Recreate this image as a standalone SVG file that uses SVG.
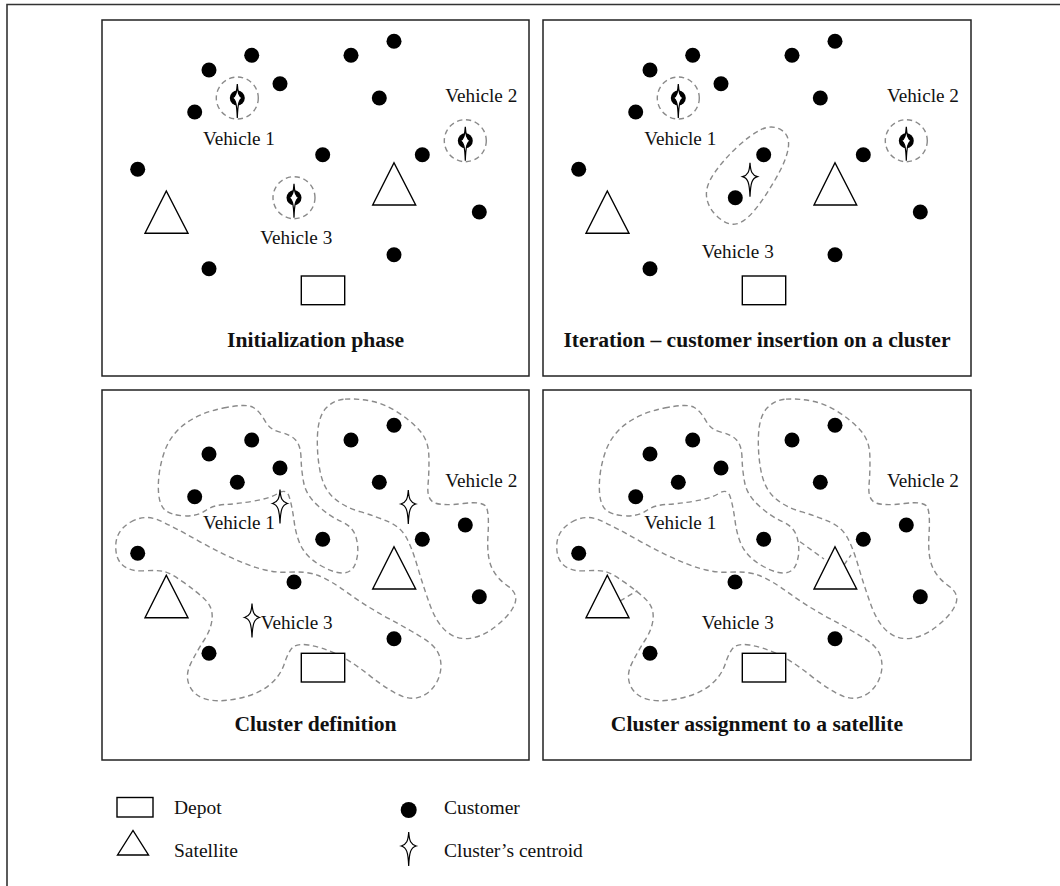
<svg xmlns="http://www.w3.org/2000/svg" width="1060" height="886" viewBox="0 0 1060 886">
<style>
.frame{fill:none;stroke:#333;stroke-width:1.6}
.panel{fill:#fff;stroke:#222;stroke-width:1.5}
.cust{fill:#000}
.sat{fill:#fff;stroke:#000;stroke-width:1.4}
.depot{fill:#fff;stroke:#000;stroke-width:1.4}
.ring{fill:none;stroke:#8a8a8a;stroke-width:1.4;stroke-dasharray:5.3 3.7}
.clus{fill:none;stroke:#8a8a8a;stroke-width:4.2;stroke-dasharray:16 11}
.link{fill:none;stroke:#8a8a8a;stroke-width:1.4;stroke-dasharray:5.3 3.7}
.star{fill:#fff;stroke:#000;stroke-width:1.2}
.lbl{font-family:"Liberation Serif","Times New Roman",serif;font-size:19.2px;fill:#111;text-anchor:middle}
.ttl{font-family:"Liberation Serif","Times New Roman",serif;font-size:21.6px;font-weight:bold;fill:#111;text-anchor:middle}
.leg{font-family:"Liberation Serif","Times New Roman",serif;font-size:19.5px;fill:#111}
</style>
<defs>
<path id="star" class="star" d="M0,-14 C0.6,-5 2,-1.6 7.5,0 C2,1.6 0.6,6 0,20 C-0.6,6 -2,1.6 -7.5,0 C-2,-1.6 -0.6,-5 0,-14 Z"/>
<path id="mstar" class="star" d="M0,-14 C0.5,-5 1.6,-1.4 5,0 C1.6,1.4 0.5,6 0,20 C-0.5,6 -1.6,1.4 -5,0 C-1.6,-1.4 -0.5,-5 0,-14 Z"/>
<g id="marker"><circle r="7.5" fill="#000"/><use href="#mstar"/></g>
<path id="c1" d="M400,114 Q470,100 490,112.5 Q510,125 525,152.5 Q540,180 570,186.5 Q600,193 616,209 Q632,225 633,262.5 Q634,300 641,337.5 Q648,375 684,407.5 Q720,440 755,455 Q790,470 799,505 Q808,540 799,572.5 Q790,605 765,608.5 Q740,612 700,591 Q660,570 640,540 Q620,510 612.5,455 Q605,400 596.5,377.5 Q588,355 564,370 Q540,385 490,393.5 Q440,402 405,403.5 Q370,405 345,422.5 Q320,440 280,437.5 Q240,435 222.5,417.5 Q205,400 205,350 Q205,300 222.5,247.5 Q240,195 285,161.5 Q330,128 400,114 Z"/>
<path id="c2" d="M765,87.5 Q800,85 840,92.5 Q880,100 920,125 Q960,150 987.5,180 Q1015,210 1016.5,255 Q1018,300 1014,345 Q1010,390 1035,399 Q1060,408 1120,400.5 Q1180,393 1189,411.5 Q1198,430 1194,495 Q1190,560 1205,592.5 Q1220,625 1252.5,647.5 Q1285,670 1275,700 Q1265,730 1222.5,765 Q1180,800 1140,805 Q1100,810 1070,785 Q1040,760 1020,705 Q1000,650 982.5,590 Q965,530 947.5,500 Q930,470 895,455 Q860,440 810,425 Q760,410 730,382.5 Q700,355 690,302.5 Q680,250 682.5,195 Q685,140 707.5,115 Q730,90 765,87.5 Z"/>
<path id="c3" d="M122.5,456 Q165,432 207.5,451 Q250,470 325,512.5 Q400,555 470,582.5 Q540,610 595,606.5 Q650,603 685,616.5 Q720,630 775,670 Q830,710 895,745 Q960,780 1000,805 Q1040,830 1049,860 Q1058,890 1046.5,922.5 Q1035,955 1005,974 Q975,993 937.5,979 Q900,965 840,917.5 Q780,870 735,850 Q690,830 655,825 Q620,820 607.5,832.5 Q595,845 582.5,882.5 Q570,920 535,947.5 Q500,975 440,986.5 Q380,998 345,986.5 Q310,975 297.5,945 Q285,915 302.5,880 Q320,845 342.5,810 Q365,775 366.5,742.5 Q368,710 344,687.5 Q320,665 280,636.5 Q240,608 220,604 Q200,600 160,602.5 Q120,605 97.5,585 Q75,565 77.5,522.5 Q80,480 122.5,456 Z"/>
</defs>

<rect width="1060" height="886" fill="#fff"/>
<path id="frame" class="frame" d="M7,886 V4.5 H1060"/>

<!-- Panel 1: Initialization phase -->
<g id="panel-init">
<rect class="panel" x="102" y="20" width="427" height="356"/>
<g id="init-customers" class="cust">
<circle cx="209" cy="70" r="7.5"/><circle cx="251.7" cy="55.3" r="7.5"/><circle cx="351" cy="55.3" r="7.5"/><circle cx="394" cy="41.3" r="7.5"/>
<circle cx="280" cy="83.7" r="7.5"/><circle cx="379.3" cy="98" r="7.5"/><circle cx="194.7" cy="112" r="7.5"/><circle cx="322.7" cy="154.7" r="7.5"/>
<circle cx="422.3" cy="154.7" r="7.5"/><circle cx="137.7" cy="169.3" r="7.5"/><circle cx="479.3" cy="212" r="7.5"/><circle cx="209" cy="268.7" r="7.5"/>
<circle cx="394" cy="254.7" r="7.5"/>
</g>
<g id="init-satellites">
<polygon class="sat" points="145,233.3 166.3,191 188,233.3"/>
<polygon class="sat" points="372.7,205 394,162.7 415.7,205"/>
</g>
<rect id="init-depot" class="depot" x="301.3" y="276" width="43.4" height="28.7"/>
<g id="init-v1"><circle class="ring" cx="237.3" cy="98" r="21"/><use href="#marker" x="237.3" y="98"/><text class="lbl" x="239" y="145">Vehicle 1</text></g>
<g id="init-v2"><circle class="ring" cx="465.3" cy="140.7" r="21"/><use href="#marker" x="465.3" y="140.7"/><text class="lbl" x="481.3" y="102">Vehicle 2</text></g>
<g id="init-v3"><circle class="ring" cx="294" cy="197.7" r="21"/><use href="#marker" x="294" y="197.7"/><text class="lbl" x="296.3" y="244.3">Vehicle 3</text></g>
<text class="ttl" x="315.5" y="347.3">Initialization phase</text>
</g>

<!-- Panel 2: Iteration -->
<g id="panel-iter">
<rect class="panel" x="543" y="20" width="428" height="356"/>
<g id="iter-customers" class="cust">
<circle cx="650" cy="70" r="7.5"/><circle cx="692.7" cy="55.3" r="7.5"/><circle cx="792" cy="55.3" r="7.5"/><circle cx="835" cy="41.3" r="7.5"/>
<circle cx="721" cy="83.7" r="7.5"/><circle cx="820.3" cy="98" r="7.5"/><circle cx="635.7" cy="112" r="7.5"/><circle cx="763.7" cy="154.7" r="7.5"/>
<circle cx="863.3" cy="154.7" r="7.5"/><circle cx="578.7" cy="169.3" r="7.5"/><circle cx="920.3" cy="212" r="7.5"/><circle cx="650" cy="268.7" r="7.5"/>
<circle cx="835" cy="254.7" r="7.5"/><circle cx="735.3" cy="197.7" r="7.5"/>
</g>
<g id="iter-satellites">
<polygon class="sat" points="586,233.3 607.3,191 629,233.3"/>
<polygon class="sat" points="814,205 835,162.7 856.7,205"/>
</g>
<rect id="iter-depot" class="depot" x="742.3" y="276" width="43.4" height="28.7"/>
<g id="iter-v1"><circle class="ring" cx="678.3" cy="98" r="21"/><use href="#marker" x="678.3" y="98"/><text class="lbl" x="680.3" y="145">Vehicle 1</text></g>
<g id="iter-v2"><circle class="ring" cx="906.3" cy="140.7" r="21"/><use href="#marker" x="906.3" y="140.7"/><text class="lbl" x="923" y="102">Vehicle 2</text></g>
<g id="iter-v3">
<path class="clus" transform="translate(530,10) scale(0.33333)" d="M692.5,359 Q725,343 752.5,359 Q780,375 775,412.5 Q770,450 735,510 Q700,570 670,605 Q640,640 615,642.5 Q590,645 562.5,620 Q535,595 530,562.5 Q525,530 552.5,490 Q580,450 620,412.5 Q660,375 692.5,359 Z"/>
<use href="#star" x="750" y="176.7"/>
<text class="lbl" x="737.8" y="258.3">Vehicle 3</text>
</g>
<text class="ttl" x="757" y="347.3">Iteration – customer insertion on a cluster</text>
</g>

<!-- Panel 3: Cluster definition -->
<g id="panel-def">
<rect class="panel" x="102" y="390" width="427" height="370"/>
<g id="def-clusters" transform="translate(90,370) scale(0.33333)">
<use href="#c1" class="clus"/><use href="#c2" class="clus"/><use href="#c3" class="clus"/>
</g>
<g id="def-customers" class="cust">
<circle cx="209" cy="454" r="7.5"/><circle cx="251.7" cy="440" r="7.5"/><circle cx="351" cy="440" r="7.5"/><circle cx="394" cy="425.3" r="7.5"/>
<circle cx="280" cy="468" r="7.5"/><circle cx="237.3" cy="482.3" r="7.5"/><circle cx="379.3" cy="482.3" r="7.5"/><circle cx="194.7" cy="496.7" r="7.5"/>
<circle cx="322.7" cy="539.3" r="7.5"/><circle cx="422.3" cy="539.3" r="7.5"/><circle cx="465.3" cy="525" r="7.5"/><circle cx="137.7" cy="553.3" r="7.5"/>
<circle cx="294" cy="582" r="7.5"/><circle cx="479.3" cy="596.7" r="7.5"/><circle cx="209" cy="653.3" r="7.5"/><circle cx="394" cy="638.7" r="7.5"/>
</g>
<g id="def-satellites">
<polygon class="sat" points="145,617.7 166.3,575.3 188,617.7"/>
<polygon class="sat" points="372.7,589 394,546.7 415.7,589"/>
</g>
<rect id="def-depot" class="depot" x="301.3" y="653.3" width="43.4" height="28.7"/>
<g id="def-v1"><use href="#star" x="280" y="503.5"/><text class="lbl" x="239" y="529.3">Vehicle 1</text></g>
<g id="def-v2"><use href="#star" x="408.3" y="504"/><text class="lbl" x="481.3" y="486.7">Vehicle 2</text></g>
<g id="def-v3"><use href="#star" x="252" y="617.5"/><text class="lbl" x="296.7" y="628.7">Vehicle 3</text></g>
<text class="ttl" x="315.5" y="731">Cluster definition</text>
</g>

<!-- Panel 4: Cluster assignment -->
<g id="panel-assign">
<rect class="panel" x="543" y="390" width="428" height="370"/>
<g id="assign-clusters" transform="translate(531,370) scale(0.33333)">
<use href="#c1" class="clus"/><use href="#c2" class="clus"/><use href="#c3" class="clus"/>
</g>
<g id="assign-links">
<path class="link" d="M800,541.7 L824,559"/>
<path class="link" d="M844,565 L851,555"/>
<path class="link" d="M620,601 L637.3,590.7"/>
</g>
<g id="assign-customers" class="cust">
<circle cx="650" cy="454" r="7.5"/><circle cx="692.7" cy="440" r="7.5"/><circle cx="792" cy="440" r="7.5"/><circle cx="835" cy="425.3" r="7.5"/>
<circle cx="721" cy="468" r="7.5"/><circle cx="678.3" cy="482.3" r="7.5"/><circle cx="820.3" cy="482.3" r="7.5"/><circle cx="635.7" cy="496.7" r="7.5"/>
<circle cx="763.7" cy="539.3" r="7.5"/><circle cx="863.3" cy="539.3" r="7.5"/><circle cx="906.3" cy="525" r="7.5"/><circle cx="578.7" cy="553.3" r="7.5"/>
<circle cx="735" cy="582" r="7.5"/><circle cx="920.3" cy="596.7" r="7.5"/><circle cx="650" cy="653.3" r="7.5"/><circle cx="835" cy="638.7" r="7.5"/>
</g>
<g id="assign-satellites">
<polygon class="sat" points="586,617.7 607.3,575.3 629,617.7"/>
<polygon class="sat" points="814,589 835,546.7 856.7,589"/>
</g>
<rect id="assign-depot" class="depot" x="742.3" y="653.3" width="43.4" height="28.7"/>
<text class="lbl" x="680.3" y="529.3">Vehicle 1</text>
<text class="lbl" x="923" y="486.7">Vehicle 2</text>
<text class="lbl" x="737.8" y="628.7">Vehicle 3</text>
<text class="ttl" x="757" y="731">Cluster assignment to a satellite</text>
</g>

<!-- Legend -->
<g id="legend">
<g id="leg-depot"><rect class="depot" x="117" y="797.5" width="36" height="19.5"/><text class="leg" x="174" y="813.5">Depot</text></g>
<g id="leg-sat"><polygon class="sat" points="117.5,855 133,830.5 148.5,855"/><text class="leg" x="174" y="856.5">Satellite</text></g>
<g id="leg-cust"><circle class="cust" cx="408.7" cy="810" r="8"/><text class="leg" x="444" y="813.5">Customer</text></g>
<g id="leg-cent"><use href="#star" x="408.7" y="846"/><text class="leg" x="444" y="856.5">Cluster’s centroid</text></g>
</g>
</svg>
